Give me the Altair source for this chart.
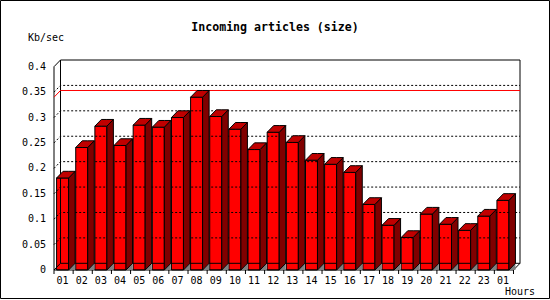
import altair as alt
import pandas as pd

# ---- data ----
hours = ["01", "02", "03", "04", "05", "06", "07", "08", "09", "10", "11", "12",
         "13", "14", "15", "16", "17", "18", "19", "20", "21", "22", "23", "01"]
values = [0.181, 0.241, 0.283, 0.245, 0.285, 0.281, 0.300, 0.340, 0.302, 0.277,
          0.237, 0.271, 0.251, 0.216, 0.208, 0.192, 0.129, 0.088, 0.064, 0.110,
          0.090, 0.078, 0.106, 0.137]
y_ticks = [0, 0.05, 0.1, 0.15, 0.2, 0.25, 0.3, 0.35, 0.4]
y_tick_labels = ["0", "0.05", "0.1", "0.15", "0.2", "0.25", "0.3", "0.35", "0.4"]
grid_levels = [0.05, 0.1, 0.15, 0.2, 0.25, 0.3, 0.35]
title_text = "Incoming articles (size)"
y_unit = "Kb/sec"
x_unit = "Hours"

# ---- geometry of the pseudo-3D look (in data units) ----
N = len(values)
W_PX, H_PX = 466, 210
DX = 0.34                 # depth of bars / wall, in slot units
XMAX = N + DX
YMAX = 210 / 508.25
DY = YMAX - 0.4           # depth in value units
OFF = 0.135               # gap before the front face in a slot
BW = 0.627                # width of the front face

FRONT, TOP, SIDE, SHADE = "#ff0000", "#c00000", "#800000", "#808080"
FONT = "DejaVu Sans Mono"

front_rows, side_rows, top_rows, shade_rows = [], [], [], []
for i, v in enumerate(values):
    xl = i + OFF
    xr = xl + BW
    front_rows.append({"x": xl, "x2": xr, "y": 0.0, "y2": v})
    side_rows += [{"id": i, "x": xr, "lo": 0.0, "hi": v},
                  {"id": i, "x": xr + DX, "lo": DY, "hi": v + DY}]
    top_rows += [{"id": i, "x": xl, "lo": v, "hi": v},
                 {"id": i, "x": xl + DX, "lo": v, "hi": v + DY},
                 {"id": i, "x": xr, "lo": v, "hi": v + DY},
                 {"id": i, "x": xr + DX, "lo": v + DY, "hi": v + DY}]
    shade_rows += [{"id": i, "x": xr, "lo": 0.0, "hi": 0.0},
                   {"id": i, "x": xr + DX, "lo": 0.0, "hi": DY}]

front_df = pd.DataFrame(front_rows)
side_df = pd.DataFrame(side_rows)
top_df = pd.DataFrame(top_rows)
shade_df = pd.DataFrame(shade_rows)

frame_paths = [
    [(0, 0), (0, 0.4), (DX, 0.4 + DY)],
    [(0, 0), (DX, DY)],
    [(0, 0), (N, 0), (XMAX, DY)],
    [(DX, DY), (DX, YMAX), (XMAX, YMAX), (XMAX, DY), (DX, DY)],
]
frame_df = pd.DataFrame([{"seg": s, "ord": k, "x": p[0], "y": p[1]}
                         for s, path in enumerate(frame_paths)
                         for k, p in enumerate(path)])

grid_df = pd.DataFrame([{"seg": g, "ord": k, "x": p[0], "y": p[1]}
                        for g in grid_levels
                        for k, p in enumerate([(0, g), (DX, g + DY), (XMAX, g + DY)])])

vmax = max(values)
max_df = pd.DataFrame([{"ord": k, "x": p[0], "y": p[1]}
                       for k, p in enumerate([(0, vmax), (DX, vmax + DY), (XMAX, vmax + DY)])])

tick_df = pd.DataFrame({"x": list(range(N + 1))})
one = pd.DataFrame({"t": [title_text]})
ylab_df = pd.DataFrame({"v": y_ticks, "lab": y_tick_labels})
xlab_df = pd.DataFrame({"x": [i + OFF + BW / 2 for i in range(N)], "lab": hours})
units_df = pd.DataFrame({"lab": [y_unit, x_unit]})

xs = alt.Scale(domain=[0, XMAX], nice=False, zero=False)
ys = alt.Scale(domain=[0, YMAX], nice=False, zero=False)

y_axis = alt.Axis(values=y_ticks, labels=False, domain=False, grid=False,
                  tickSize=5, tickColor="black", title=None, zindex=2)

border = alt.Chart(one).mark_rect(filled=False, stroke="black", strokeWidth=1).encode(
    x=alt.value(-53.5), x2=alt.value(495.5), y=alt.value(-59.5), y2=alt.value(238.5))

frame = alt.Chart(frame_df).mark_line(color="black", strokeWidth=1).encode(
    x=alt.X("x:Q", scale=xs, axis=None),
    y=alt.Y("y:Q", scale=ys, axis=None),
    detail="seg:N", order="ord:Q")

grid = alt.Chart(grid_df).mark_line(color="black", strokeWidth=1, strokeDash=[2, 2]).encode(
    x=alt.X("x:Q", scale=xs, axis=None),
    y=alt.Y("y:Q", scale=ys, axis=None),
    detail="seg:N", order="ord:Q")

maxline = alt.Chart(max_df).mark_line(color="red", strokeWidth=1).encode(
    x=alt.X("x:Q", scale=xs, axis=None),
    y=alt.Y("y:Q", scale=ys, axis=None),
    order="ord:Q")

def face(df, color, stroke=True):
    kw = dict(fill=color, orient="vertical", opacity=1, fillOpacity=1)
    if stroke:
        kw.update(stroke="black", strokeWidth=1)
    return alt.Chart(df).mark_area(**kw).encode(
        x=alt.X("x:Q", scale=xs, axis=None),
        y=alt.Y("lo:Q", scale=ys, axis=None, stack=None),
        y2="hi:Q", detail="id:N")

shade = face(shade_df, SHADE, stroke=False)
side = face(side_df, SIDE)
top = face(top_df, TOP)

front = alt.Chart(front_df).mark_rect(fill=FRONT, stroke="black", strokeWidth=1).encode(
    x=alt.X("x:Q", scale=xs, axis=None),
    x2="x2:Q",
    y=alt.Y("y:Q", scale=ys, axis=y_axis),
    y2="y2:Q")

xticks = alt.Chart(tick_df).mark_rule(color="black", strokeWidth=1).encode(
    x=alt.X("x:Q", scale=xs, axis=None),
    y=alt.value(210), y2=alt.value(214))

ylabels = alt.Chart(ylab_df).mark_text(font=FONT, fontSize=10, align="right",
                                       baseline="middle", color="black").encode(
    x=alt.value(-8), y=alt.Y("v:Q", scale=ys, axis=None), text="lab:N")

xlabels = alt.Chart(xlab_df).mark_text(font=FONT, fontSize=10, align="center",
                                       baseline="alphabetic", color="black").encode(
    x=alt.X("x:Q", scale=xs, axis=None), y=alt.value(224), text="lab:N")

ylab_unit = alt.Chart(units_df).transform_filter(alt.datum.lab == y_unit).mark_text(
    font=FONT, fontSize=10, align="left", baseline="alphabetic", color="black").encode(
    x=alt.value(-26), y=alt.value(-19), text="lab:N")

xlab_unit = alt.Chart(units_df).transform_filter(alt.datum.lab == x_unit).mark_text(
    font=FONT, fontSize=10, align="left", baseline="alphabetic", color="black").encode(
    x=alt.value(451), y=alt.value(235), text="lab:N")

title = alt.Chart(one).mark_text(font=FONT, fontSize=11.6, fontWeight="bold",
                                 align="center", baseline="alphabetic", color="black").encode(
    x=alt.value(221), y=alt.value(-29.3), text="t:N")

chart = alt.layer(front, frame, grid, maxline, shade, side, top, xticks,
                  ylabels, xlabels, ylab_unit, xlab_unit, title, border).properties(
    width=W_PX, height=H_PX,
    autosize=alt.AutoSizeParams(type="none"),
    padding={"left": 54, "top": 60, "right": 30, "bottom": 30},
    background="white",
).configure_view(strokeWidth=0)

chart.save("out.html", embed_options={"renderer": "svg", "actions": False})
